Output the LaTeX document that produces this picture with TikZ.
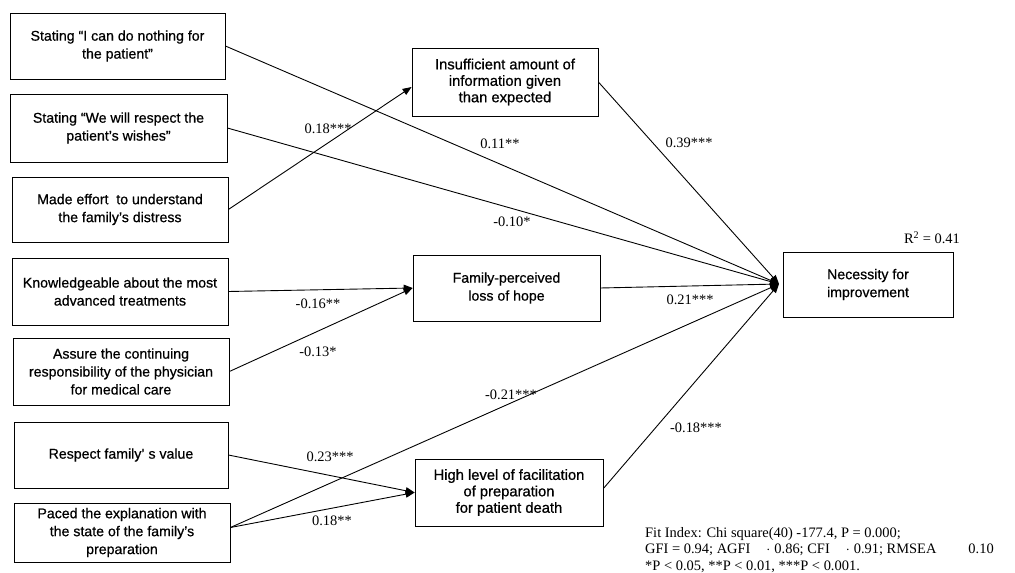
\documentclass[tikz,border=0pt]{standalone}
\usepackage{fontspec}
\setmainfont{Liberation Serif}
\newfontfamily\boxfont[FakeBold=0.6]{Liberation Sans}
\newfontfamily\midfont[FakeBold=0.8]{Liberation Sans}
\usetikzlibrary{arrows.meta,calc}
\begin{document}
\begin{tikzpicture}[x=1bp,y=-1bp,
  leftbox/.style={draw,line width=0.8pt,align=center,inner sep=0pt,
    font=\boxfont\fontsize{14.2}{18}\selectfont},
  midbox/.style={draw,line width=0.8pt,align=center,inner sep=0pt,
    font=\midfont\fontsize{14.8}{16.5}\selectfont},
  path/.style={line width=0.9pt,-{Triangle[length=9pt,width=7pt]}},
  coef/.style={font=\fontsize{14.5}{16}\selectfont,inner sep=0pt}]
\useasboundingbox (0,0) rectangle (1015,573);
% left boxes
\node[leftbox,minimum width=215bp,minimum height=66bp] (b1) at (117.5,46) {Stating “I can do nothing for\\the patient”};
\node[leftbox,minimum width=217bp,minimum height=68bp] (b2) at (118.5,128) {Stating “We will respect the\\patient’s wishes”};
\node[leftbox,minimum width=216bp,minimum height=65bp] (b3) at (120,209.5) {Made effort\ \ to understand\\the family’s distress};
\node[leftbox,minimum width=216bp,minimum height=67bp] (b4) at (120,291.5) {Knowledgeable about the most\\advanced treatments};
\node[leftbox,minimum width=216bp,minimum height=67bp] (b5) at (121,371.5) {Assure the continuing\\responsibility of the physician\\for medical care};
\node[leftbox,minimum width=214bp,minimum height=66bp] (b6) at (121,455) {Respect family’ s value};
\node[leftbox,minimum width=216bp,minimum height=59bp] (b7) at (122,532.5) {Paced the explanation with\\the state of the family’s\\preparation};
% middle boxes
\node[midbox,minimum width=186bp,minimum height=68bp] (m1) at (505,82) {Insufficient amount of\\information given\\than expected};
\node[leftbox,minimum width=187bp,minimum height=66bp] (m2) at (506.5,288) {Family-perceived\\loss of hope};
\node[midbox,minimum width=188bp,minimum height=67bp] (m3) at (509,492.5) {High level of facilitation\\of preparation\\for patient death};
% outcome
\node[leftbox,minimum width=170bp,minimum height=65bp] (n) at (868,284.5) {Necessity for\\improvement};
\coordinate (tip) at (779,284);
\node[coef] (r2) at (932,238) {R\textsuperscript{2} = 0.41};
% paths
\draw[path] (b1.east) -- (tip);
\draw[path] (b2.east) -- (tip);
\draw[path] (b3.east) -- ($(m1.west)+(0,5)$);
\draw[path] (m1.east) -- (tip);
\draw[path] (b4.east) -- (m2.west);
\draw[path] (b5.east) -- (m2.west);
\draw[path] (m2.east) -- (tip);
\draw[path] (b6.east) -- (m3.west);
\draw[path] ($(b7.east)+(0,-5)$) -- (m3.west);
\draw[path] ($(b7.east)+(0,-5)$) -- (tip);
\draw[path] ($(m3.east)+(0,-4)$) -- (tip);
% coefficients
\node[coef] (c1) at (328,129) {0.18***};
\node[coef] (c2) at (500,144) {0.11**};
\node[coef] (c3) at (689,143) {0.39***};
\node[coef] (c4) at (512,222) {-0.10*};
\node[coef] (c5) at (318,304) {-0.16**};
\node[coef] (c6) at (690,300) {0.21***};
\node[coef] (c7) at (318,352) {-0.13*};
\node[coef] (c8) at (511,395) {-0.21***};
\node[coef] (c9) at (696,428) {-0.18***};
\node[coef] (c10) at (330,457) {0.23***};
\node[coef] (c11) at (332,521) {0.18**};
% fit index
\node[anchor=west,align=left,inner sep=0pt,font=\fontsize{14.5}{16.5}\selectfont] (fit) at (645,550)
  {Fit Index: Chi square(40) -177.4, P = 0.000;\\GFI = 0.94; AGFI\hspace{16bp}$\cdot$\hspace{4bp}0.86; CFI\hspace{16bp}$\cdot$\hspace{4bp}0.91; RMSEA\hspace{32bp}0.10\\*P < 0.05, **P < 0.01, ***P < 0.001.};
\end{tikzpicture}
\end{document}
